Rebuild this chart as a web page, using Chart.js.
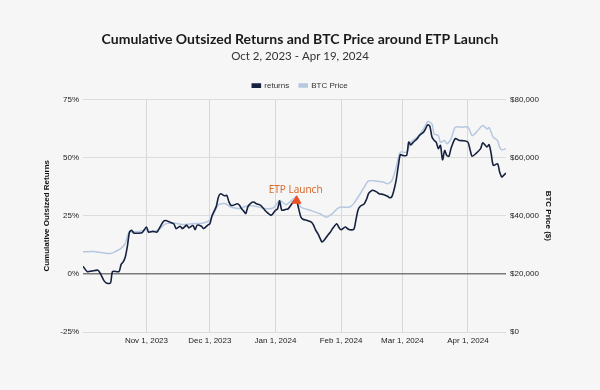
<!DOCTYPE html>
<html>
<head>
<meta charset="utf-8">
<script src="https://cdn.jsdelivr.net/npm/chart.js@4.4.1/dist/chart.umd.min.js"></script>
<style>
  html, body { margin: 0; padding: 0; background: #f6f6f6; }
  #wrap { width: 600px; height: 390px; position: relative; }
</style>
</head>
<body>
<div id="wrap"><canvas id="c" width="600" height="390"></canvas></div>
<script>
// ---- data (x = days since Oct 2, 2023) ----
const retDays = [0,2,4,7,8,9,10,11,13,14,17,18,19,20,21,22,23,24,26,28,30,31,33,35,36,38,39,41,43,44,46,47,49,50,52,53,54,56,57,59,60,61,63,64,65,67,68,69,70,71,73,74,75,76,77,78,80,81,82,84,86,87,89,91,92,93,94,96,97,99,100,101,102,103,104,106,108,109,110,111,112,113,114,116,117,118,120,121,122,124,125,126,128,129,130,131,133,134,135,136,137,139,140,142,144,145,146,147,148,149,150,151,153,154,155,156,158,159,161,162,163,164,165,166,167,168,169,170,171,172,173,174,176,178,180,182,183,184,186,188,189,191,192,193,194,196,197,198,199,200];
const retValues = [3.3,1.0,1.2,1.6,0.5,-1.3,-3.0,-3.9,-3.9,1.0,1.0,4.0,5.2,7.3,12,18,18.8,17.6,17.5,17.8,20.2,18,18.3,18,19.5,22.5,23,22.3,21.5,19.5,20.5,19.5,21,19.8,20.8,19,21,20.5,19.5,21,21.6,25,29,33,34.5,33.6,33.8,31,29.5,29.5,30.2,29.5,28,27,26,29,30.9,30.8,30.2,29.5,27.4,26.5,25.2,27.4,28,31.4,27.4,27.8,28,30.5,31.6,31.5,28,24.5,23.5,23,22.3,21,18.8,17.4,15.5,13.7,14.5,17,18,19.5,21.6,20,19,20.2,19.5,19,19.2,23,27.4,29,30.2,32,34.5,35.5,36,35.2,34.5,34.2,33.4,32.8,33.2,36,40,46,51.3,51,51,56.7,55.5,56.5,58.2,59.5,61,62.5,64.2,63.5,58.9,57.5,56.7,53.9,55.3,49.1,53.1,51,50.6,54,58.2,57.4,57.3,56.7,53.5,50.6,52,53.9,56.4,54.6,55.6,51.7,46.7,47.4,43.8,41.7,42.5,43.4];
const btcDays = [0,5,9,13,15,18,20,21,22,26,30,32,36,39,43,47,52,57,60,62,64,67,70,74,78,82,86,90,93,96,99,101,103,107,112,115,118,120,122,126,128,131,133,135,138,142,144,146,148,150,153,155,158,161,163,165,166,168,169,171,172,174,176,179,182,184,186,189,191,192,194,196,197,198,200];
const btcValues = [27600,27700,27300,27000,27600,28800,30500,33000,34400,34500,35200,34500,35300,37200,37500,37000,37300,37500,38500,41000,43800,44200,43000,42500,43500,43200,42500,42700,45300,43800,45500,46500,43000,42000,40700,39500,40800,42300,43000,43000,44200,47500,49900,52000,52000,51600,51000,52000,56500,61900,61900,65300,67000,69900,72400,71600,68200,67600,65300,65900,64800,66500,70500,70500,70500,67600,68800,71100,69900,70400,67000,65900,63600,62700,63100];
const tickDays = [30,60,91,122,151,182];
const tickLabels = ["Nov 1, 2023","Dec 1, 2023","Jan 1, 2024","Feb 1, 2024","Mar 1, 2024","Apr 1, 2024"];
const leftTicks = [-25,0,25,50,75];
const rightTicks = [0,20000,40000,60000,80000];
const launchDay = 101;
const launchValue = 31.5;
const launchLabel = "ETP Launch";

const toXY = (xs, ys) => xs.map((x, i) => ({ x: x, y: ys[i] }));

const bgPlugin = {
  id: 'bg',
  beforeDraw(chart) {
    const ctx = chart.ctx;
    ctx.save();
    ctx.fillStyle = '#f6f6f6';
    ctx.fillRect(0, 0, chart.width, chart.height);
    ctx.restore();
  }
};
const launchText = {
  id: 'launchText',
  afterDatasetsDraw(chart) {
    const meta = chart.getDatasetMeta(2);
    if (!meta || !meta.data[0]) return;
    const p = meta.data[0];
    const ctx = chart.ctx;
    ctx.save();
    ctx.font = '10px "Noto Sans", sans-serif';
    ctx.fillStyle = '#d9692a';
    ctx.textAlign = 'center';
    ctx.textBaseline = 'bottom';
    ctx.fillText(launchLabel, p.x - 1, p.y - 6);
    ctx.restore();
  }
};

const tickFont = { family: '"Liberation Sans", Arial, sans-serif', size: 8 };

new Chart(document.getElementById('c'), {
  type: 'line',
  data: {
    datasets: [
      {
        label: 'returns',
        data: toXY(retDays, retValues),
        yAxisID: 'y',
        borderColor: '#15213f',
        backgroundColor: '#15213f',
        borderWidth: 1.6,
        pointRadius: 0,
        tension: 0.25,
        order: 1
      },
      {
        label: 'BTC Price',
        data: toXY(btcDays, btcValues),
        yAxisID: 'y2',
        borderColor: '#b5c8df',
        backgroundColor: '#b5c8df',
        borderWidth: 1.5,
        pointRadius: 0,
        tension: 0.25,
        order: 2
      },
      {
        label: 'launch',
        data: [{ x: launchDay, y: launchValue }],
        yAxisID: 'y',
        showLine: false,
        pointStyle: 'triangle',
        pointRadius: 5,
        backgroundColor: '#f04e23',
        borderColor: '#f04e23',
        order: 0
      }
    ]
  },
  options: {
    responsive: false,
    animation: false,
    layout: { padding: { top: 31, left: 0, right: 0, bottom: 0 } },
    plugins: {
      title: {
        display: true,
        text: 'Cumulative Outsized Returns and BTC Price around ETP Launch',
        color: '#1a1a1a',
        font: { family: 'Lato, sans-serif', size: 14, weight: 'bold' },
        padding: { top: 0, bottom: 2 }
      },
      subtitle: {
        display: true,
        text: 'Oct 2, 2023 - Apr 19, 2024',
        color: '#333',
        font: { family: 'Lato, sans-serif', size: 11.5 },
        padding: { top: 0, bottom: 8 }
      },
      legend: {
        display: true,
        labels: {
          filter: (item) => item.datasetIndex !== 2,
          boxWidth: 8,
          boxHeight: 3,
          color: '#333',
          font: tickFont,
          padding: 10
        }
      },
      tooltip: { enabled: false }
    },
    scales: {
      x: {
        type: 'linear',
        min: 0,
        max: 200,
        afterBuildTicks: (s) => { s.ticks = tickDays.map(v => ({ value: v })); },
        afterFit: (s) => { s.height = 58; },
        ticks: {
          callback: (v) => { const i = tickDays.indexOf(v); return i >= 0 ? tickLabels[i] : ''; },
          font: tickFont,
          color: '#222',
          maxRotation: 0,
          autoSkip: false,
          padding: 4
        },
        grid: { color: '#d8d8d8', drawTicks: false, lineWidth: 1 },
        border: { display: false }
      },
      y: {
        position: 'left',
        min: -25,
        max: 75,
        afterBuildTicks: (s) => { s.ticks = leftTicks.map(v => ({ value: v })); },
        afterFit: (s) => { s.width = 83; },
        ticks: {
          callback: (v) => v + '%',
          font: tickFont,
          color: '#222',
          padding: 4
        },
        grid: {
          drawTicks: false,
          color: (c) => c.tick && c.tick.value === 0 ? '#7a7a7a' : '#dcdcdc',
          lineWidth: (c) => c.tick && c.tick.value === 0 ? 1.5 : 1
        },
        border: { display: false },
        title: {
          display: true,
          text: 'Cumulative Outsized Returns',
          color: '#111',
          font: { family: '"Liberation Sans", Arial, sans-serif', size: 8, weight: 'bold' },
          padding: { top: 42, bottom: 0 }
        }
      },
      y2: {
        position: 'right',
        min: 0,
        max: 80000,
        afterBuildTicks: (s) => { s.ticks = rightTicks.map(v => ({ value: v })); },
        afterFit: (s) => { s.width = 94; },
        ticks: {
          callback: (v) => '$' + v.toLocaleString('en-US'),
          font: tickFont,
          color: '#222',
          padding: 4
        },
        grid: { display: false, drawTicks: false },
        border: { display: false },
        title: {
          display: true,
          text: 'BTC Price ($)',
          color: '#111',
          font: { family: '"Liberation Sans", Arial, sans-serif', size: 8, weight: 'bold' },
          padding: { top: 47, bottom: 0 }
        }
      }
    }
  },
  plugins: [bgPlugin, launchText]
});
</script>
</body>
</html>
